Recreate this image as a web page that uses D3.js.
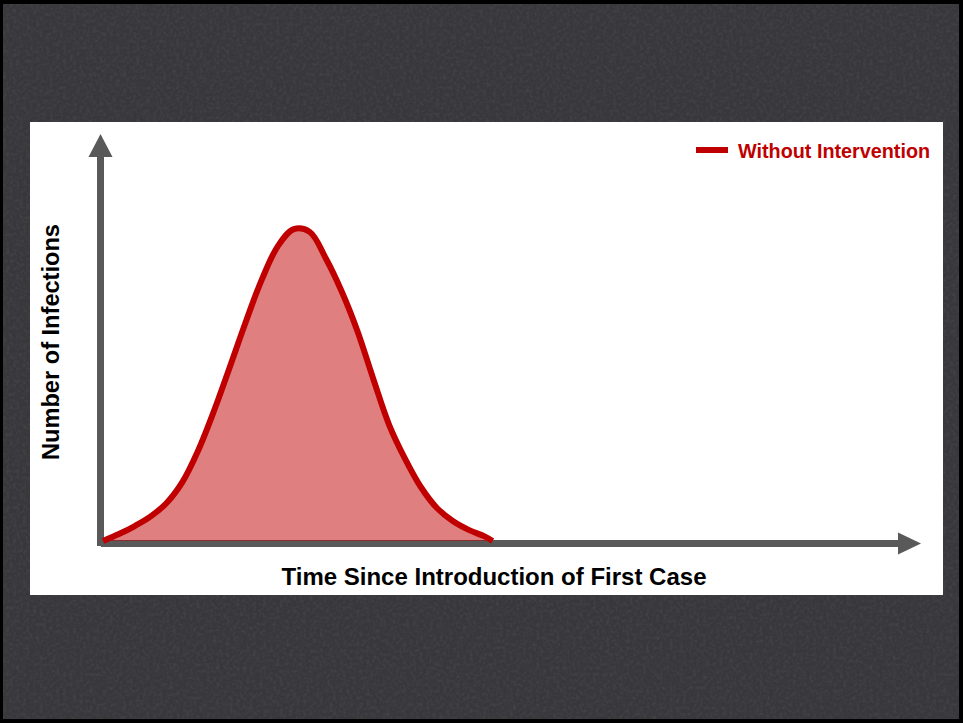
<!DOCTYPE html>
<html>
<head>
<meta charset="utf-8">
<script src="https://cdn.jsdelivr.net/npm/d3@7"></script>
<style>
  html, body { margin: 0; padding: 0; background: #000; }
  svg { display: block; }
</style>
</head>
<body>
<div id="chart"></div>
<script>
// values (time since first case, number of infections)
const time = [0, 2, 4, 6, 8, 10, 12, 14, 16, 18, 20, 22, 24, 26, 28, 30, 32, 34, 36, 38, 40, 42, 44, 46, 48, 49];
const infections = [0, 1.8, 3.9, 6.4, 9.9, 15.4, 23.7, 34.1, 45.6, 57.3, 68.2, 76.8, 81.2, 80.5, 73.7, 65.1, 54.7, 42.2, 30.2, 21.4, 14, 8.6, 5.2, 2.9, 1.2, 0];
const seriesName = "Without Intervention";
const xTitle = "Time Since Introduction of First Case";
const yTitle = "Number of Infections";

const width = 963;
const height = 723;
const red = "#c00000";
const axisGrey = "#595959";

const svg = d3.select("#chart").append("svg")
  .attr("width", width)
  .attr("height", height);

// textured dark backdrop
const defs = svg.append("defs");
const noise = defs.append("filter").attr("id", "grain")
  .attr("x", 0).attr("y", 0).attr("width", "100%").attr("height", "100%");
noise.append("feTurbulence")
  .attr("type", "fractalNoise")
  .attr("baseFrequency", 0.3)
  .attr("numOctaves", 3)
  .attr("seed", 4);
noise.append("feColorMatrix")
  .attr("type", "matrix")
  .attr("values", "0 0 0 0 1  0 0 0 0 1  0 0 0 0 1  1 0 0 0 -0.4");

svg.append("rect")
  .attr("width", width).attr("height", height)
  .attr("fill", "#000");
svg.append("rect")
  .attr("x", 3).attr("y", 4)
  .attr("width", width - 7).attr("height", height - 8)
  .attr("fill", "#38383c");
svg.append("rect")
  .attr("x", 3).attr("y", 4)
  .attr("width", width - 7).attr("height", height - 8)
  .attr("filter", "url(#grain)")
  .attr("opacity", 0.12);

// white plot panel
svg.append("rect")
  .attr("x", 30).attr("y", 122)
  .attr("width", 913).attr("height", 473)
  .attr("fill", "#fff");

const x = d3.scaleLinear().domain([0, 100]).range([103, 898]);
const y = d3.scaleLinear().domain([0, 100]).range([541, 157]);

// axes drawn as arrows
const axes = svg.append("g").attr("class", "axes");
axes.append("line")
  .attr("x1", x(0) - 2.5).attr("x2", x(0) - 2.5)
  .attr("y1", y(0) + 5).attr("y2", y(100))
  .attr("stroke", axisGrey).attr("stroke-width", 7);
axes.append("path")
  .attr("d", d3.line()([[x(0) - 14.5, y(100)], [x(0) - 2.5, y(100) - 23], [x(0) + 9.5, y(100)]]) + "Z")
  .attr("fill", axisGrey);
axes.append("line")
  .attr("x1", x(0) - 2).attr("x2", x(100))
  .attr("y1", y(0) + 2.5).attr("y2", y(0) + 2.5)
  .attr("stroke", axisGrey).attr("stroke-width", 7);
axes.append("path")
  .attr("d", d3.line()([[x(100), y(0) + 2.5 - 11], [x(100) + 23, y(0) + 2.5], [x(100), y(0) + 2.5 + 11]]) + "Z")
  .attr("fill", axisGrey);

// epidemic curve
const data = time.map((t, i) => ({ t: t, v: infections[i] }));

const area = d3.area()
  .x(d => x(d.t))
  .y0(y(0))
  .y1(d => y(d.v))
  .curve(d3.curveCatmullRom.alpha(0.5));

const line = d3.line()
  .x(d => x(d.t))
  .y(d => y(d.v))
  .curve(d3.curveCatmullRom.alpha(0.5));

svg.append("path")
  .datum(data)
  .attr("d", area)
  .attr("fill", "rgba(192,0,0,0.5)");

svg.append("path")
  .datum(data)
  .attr("d", line)
  .attr("fill", "none")
  .attr("stroke", red)
  .attr("stroke-width", 6)
  .attr("stroke-linejoin", "round");

// titles
svg.append("text")
  .attr("x", 494).attr("y", 585)
  .attr("text-anchor", "middle")
  .attr("font-family", "Liberation Sans, Arial, sans-serif")
  .attr("font-weight", "bold")
  .attr("font-size", 24)
  .attr("fill", "#000")
  .text(xTitle);

svg.append("text")
  .attr("transform", "translate(59,342) rotate(-90)")
  .attr("text-anchor", "middle")
  .attr("font-family", "Liberation Sans, Arial, sans-serif")
  .attr("font-weight", "bold")
  .attr("font-size", 23.6)
  .attr("fill", "#000")
  .text(yTitle);

// legend
const legend = svg.append("g").attr("class", "legend");
legend.append("line")
  .attr("x1", 696).attr("x2", 728)
  .attr("y1", 150).attr("y2", 150)
  .attr("stroke", red).attr("stroke-width", 6);
legend.append("text")
  .attr("x", 738).attr("y", 158)
  .attr("font-family", "Liberation Sans, Arial, sans-serif")
  .attr("font-weight", "bold")
  .attr("font-size", 19.8)
  .attr("fill", red)
  .text(seriesName);
</script>
</body>
</html>
